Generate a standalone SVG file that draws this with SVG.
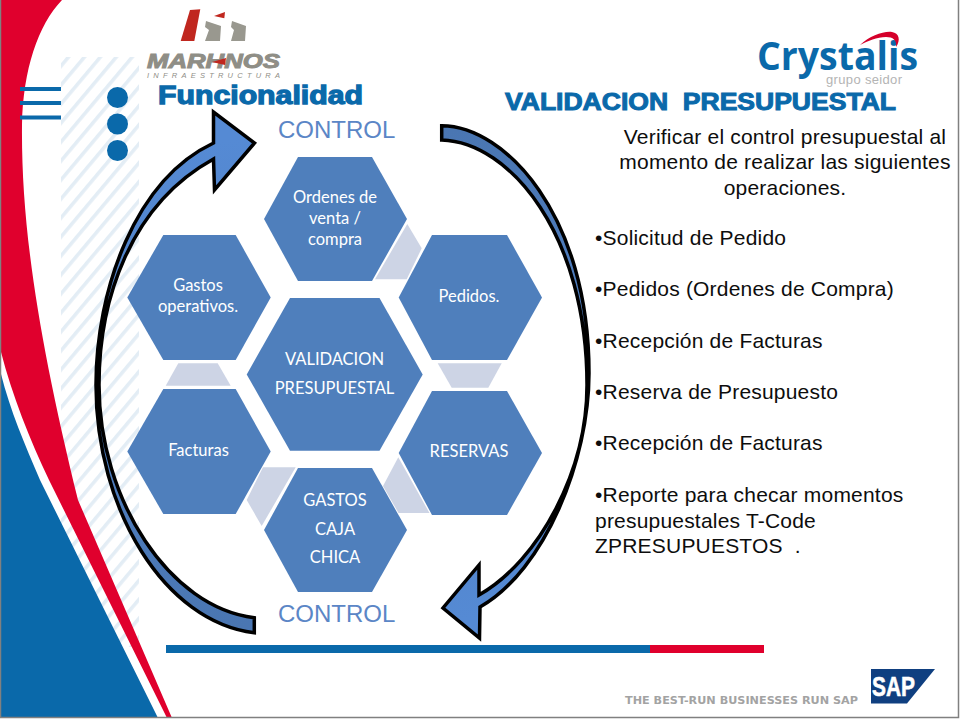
<svg xmlns="http://www.w3.org/2000/svg" width="960" height="720" viewBox="0 0 960 720">
<style>
.hex{fill:#4f7fbc}
.link{fill:#cdd4e5}
.ht{font-family:"Lato","Open Sans",sans-serif;font-size:16.5px;fill:#fff;text-anchor:middle}
.body{font-family:"Liberation Sans",Arial,sans-serif;font-size:21px;letter-spacing:.2px;fill:#0d0d0d}
.ctl{font-family:"Liberation Sans",Arial,sans-serif;font-size:24px;fill:#5b86c6}
.arrow{stroke:#000;stroke-width:3.5;stroke-linejoin:miter}
.blue{fill:#0a69aa}
.red{fill:#e0002d}
</style>
<defs>
<pattern id="hatch" patternUnits="userSpaceOnUse" width="20" height="12.2" patternTransform="rotate(-50 61 57)">
<rect width="20" height="12.2" fill="#fff"/>
<rect y="0" width="20" height="3.5" fill="#e3edf5"/>
</pattern>
<linearGradient id="gl" gradientUnits="userSpaceOnUse" x1="254" y1="625" x2="230" y2="140">
<stop offset="0" stop-color="#4a76b2"/><stop offset="1" stop-color="#558ad4"/>
</linearGradient>
<linearGradient id="gr" gradientUnits="userSpaceOnUse" x1="442" y1="130" x2="460" y2="620">
<stop offset="0" stop-color="#4a76b2"/><stop offset="1" stop-color="#558ad4"/>
</linearGradient>
</defs>
<rect width="960" height="720" fill="#fff"/>
<rect x="61" y="57" width="78" height="590" fill="url(#hatch)"/>
<path class="red" d="M1,0 H62 C38,25 23,70 22,125 C21,230 40,345 78,500 L172,718 H167 L49,480 C30,440 12,395 1,352 Z"/>
<path class="blue" d="M1,374 C10,410 25,445 40,480 L158,718 H1 Z"/>
<g class="blue">
<rect x="20" y="87" width="41" height="4"/>
<rect x="20" y="101" width="41" height="4"/>
<rect x="20" y="115.500" width="41" height="4"/>
<circle cx="117.500" cy="97.500" r="10.500"/>
<circle cx="117.500" cy="124" r="10.500"/>
<circle cx="117.500" cy="150.500" r="10.500"/>
<rect x="166" y="645" width="484" height="8"/>
</g>
<rect class="red" x="650" y="645" width="114" height="8"/>
<path d="M0.500,0 V717.500 H958.500 V0" fill="none" stroke="#808080" stroke-width="1.500"/>

<g id="logo-marhnos">
<polygon points="190,10 200.300,9.300 194.300,41 180.700,41" fill="#c0271f"/>
<polygon points="214,16 225,12 224.300,18.300" fill="#c0271f"/>
<polygon points="206,21 221,26 220,41 205,41 209,30 205,27" fill="#99988f"/>
<polygon points="232,21 246,26 245,41 231,41 234,30 231,27" fill="#99988f"/>
<text x="147" y="68" font-family="Liberation Sans,Arial,sans-serif" font-size="21" font-weight="bold" font-style="italic" fill="#8f8e86" stroke="#8f8e86" stroke-width="1" textLength="133" lengthAdjust="spacingAndGlyphs">MARHNOS</text>
<polygon points="212,62 226,58 225,65" fill="#c0271f"/>
<text x="147" y="78" font-family="Liberation Sans,Arial,sans-serif" font-size="7.500" font-style="italic" fill="#8f8e86" textLength="133">INFRAESTRUCTURA</text>
</g>
<g id="logo-crystalis">
<text x="757" y="70" font-family="Open Sans,Liberation Sans,sans-serif" font-size="39" font-weight="bold" fill="#0a69aa" textLength="161" lengthAdjust="spacingAndGlyphs">Crystalis</text>
<path d="M860,45 C870,36 883,31 892,32 C899,33 901,40 896,47 C897,40 893,37 886,37 C877,37 868,41 860,45 Z" fill="#d5002b"/>
<text x="826" y="84" font-family="Liberation Sans,Arial,sans-serif" font-size="13" fill="#b4b4b4" textLength="76">grupo seidor</text>
</g>
<g id="logo-sap">
<text x="625" y="704" font-family="DejaVu Sans,sans-serif" font-size="10" font-weight="bold" fill="#a3a3a3" textLength="233" lengthAdjust="spacingAndGlyphs">THE BEST-RUN BUSINESSES RUN SAP</text>
<polygon points="871,669 935,669 907,703.500 871,703.500" fill="#0f3f80"/>
<text x="872" y="696" font-family="Liberation Sans,Arial,sans-serif" font-size="27" font-weight="bold" fill="#fff" stroke="#fff" stroke-width=".6" textLength="43" lengthAdjust="spacingAndGlyphs">SAP</text>
</g>

<text x="158" y="104" font-family="Liberation Sans,Arial,sans-serif" font-size="26.500" font-weight="bold" fill="#0a69aa" stroke="#0a69aa" stroke-width="1.300" textLength="205" lengthAdjust="spacingAndGlyphs">Funcionalidad</text>
<text x="505" y="110" xml:space="preserve" font-family="Liberation Sans,Arial,sans-serif" font-size="23.500" font-weight="bold" fill="#0a69aa" stroke="#0a69aa" stroke-width="1" textLength="391" lengthAdjust="spacingAndGlyphs">VALIDACION  PRESUPUESTAL</text>
<text class="ctl" x="278" y="138">CONTROL</text>
<text class="ctl" x="278" y="622">CONTROL</text>

<g id="links">
<polygon class="link" points="407.300,224 421.700,248.300 406.700,279.300 375,279.300"/>
<polygon class="link" points="437.700,363.300 501.700,363.300 488.300,387.700 451.700,387.700"/>
<polygon class="link" points="178.300,363.300 217.700,363.300 230.700,385.700 165.700,385.700"/>
<polygon class="link" points="263,467.300 295.700,467.300 261.700,526 246.700,500"/>
<polygon class="link" points="398.300,457.300 429.500,513 398.500,513 383,486"/>
</g>

<g id="node-centro">
<polygon class="hex" points="290,298 379.500,298 422.700,374.500 379.500,450.700 290,450.700 246.700,374.500"/>
<text class="ht" x="334.500" y="365">VALIDACION</text>
<text class="ht" x="334.500" y="394">PRESUPUESTAL</text>
</g>
<g id="node-ordenes">
<polygon class="hex" points="298,157 372,157 407,219 372,281 298,281 264,219"/>
<text class="ht" x="335" y="203">Ordenes de</text>
<text class="ht" x="335" y="224">venta /</text>
<text class="ht" x="335" y="245">compra</text>
</g>
<g id="node-pedidos">
<polygon class="hex" points="432,235 507,235 542,297.500 507,360 432,360 398.700,297.500"/>
<text class="ht" x="469" y="302">Pedidos.</text>
</g>
<g id="node-gastos-op">
<polygon class="hex" points="163.300,235 235.700,235 270.700,297.500 235.700,360 163.300,360 127.300,297.500"/>
<text class="ht" x="198" y="291">Gastos</text>
<text class="ht" x="198" y="312">operativos.</text>
</g>
<g id="node-facturas">
<polygon class="hex" points="163.300,389 235.700,389 270.700,451.500 235.700,514 163.300,514 127.300,451.500"/>
<text class="ht" x="198.500" y="456">Facturas</text>
</g>
<g id="node-reservas">
<polygon class="hex" points="432,391 507,391 542,453 507,515 432,515 398.700,453"/>
<text class="ht" x="469" y="457">RESERVAS</text>
</g>
<g id="node-caja">
<polygon class="hex" points="298,468 372,468 407,530 372,592 298,592 264,530"/>
<text class="ht" x="335" y="506">GASTOS</text>
<text class="ht" x="335" y="535">CAJA</text>
<text class="ht" x="335" y="563">CHICA</text>
</g>

<g id="connectors">
<path class="arrow" fill="url(#gl)" d="M254.300,632.700 C165,622 96,510 96,385 C96,290 135,180 213.500,143 L213.500,112 L254.500,143 L214.500,190 L213.500,159 C130,205 99,300 99,385 C99,500 170,608 254.300,617.700 Z"/>
<path class="arrow" fill="url(#gr)" d="M441.700,125.700 C505,126 589,215 589,373 C589,460 545,570 480,607 L479.500,638 L443,608 L479,565 L479,595 C540,560 587,470 587,385 C587,235 510,142 441.700,140 Z"/>
</g>

<g id="texto">
<text class="body" text-anchor="middle" x="785" y="144">Verificar el control presupuestal al</text>
<text class="body" text-anchor="middle" x="785" y="169">momento de realizar las siguientes</text>
<text class="body" text-anchor="middle" x="785" y="195">operaciones.</text>
<text class="body" x="595" y="245">•Solicitud de Pedido</text>
<text class="body" x="595" y="296">•Pedidos (Ordenes de Compra)</text>
<text class="body" x="595" y="348">•Recepción de Facturas</text>
<text class="body" x="595" y="399">•Reserva de Presupuesto</text>
<text class="body" x="595" y="450">•Recepción de Facturas</text>
<text class="body" x="595" y="502">•Reporte para checar momentos</text>
<text class="body" x="595" y="528">presupuestales T-Code</text>
<text class="body" x="595" y="553" xml:space="preserve">ZPRESUPUESTOS  .</text>
</g>
</svg>
